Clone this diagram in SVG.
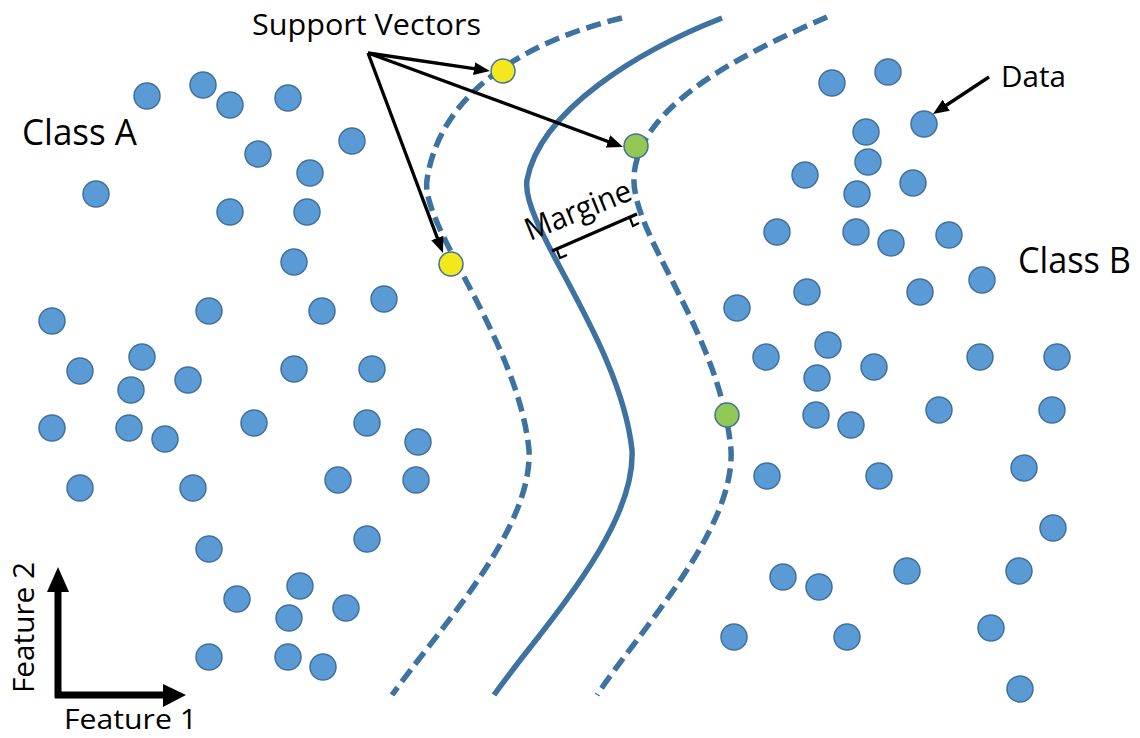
<svg xmlns="http://www.w3.org/2000/svg" width="1140" height="738" viewBox="0 0 1140 738">
  <style>
    .pt { fill: #5B9BD5; stroke: #41719C; stroke-width: 1.5; }
    .sv-y { fill: #F2E81C; stroke: #41719C; stroke-width: 1.5; }
    .sv-g { fill: #92C853; stroke: #41719C; stroke-width: 1.5; }
    .bound { fill: none; stroke: #3E72A0; stroke-width: 5.5; }
    .dash { stroke-dasharray: 15 7; }
    .arrow { fill: none; stroke: #000; stroke-width: 3.3; marker-end: url(#head); }
    .lbl { font-family: "Open Sans", "Liberation Sans", sans-serif; fill: #000; }
  </style>
  <defs>
    <marker id="head" markerUnits="userSpaceOnUse" markerWidth="17" markerHeight="14" refX="5" refY="6.5" orient="auto">
      <path d="M0,0 L16,6.5 L0,13 z" fill="#000"/>
    </marker>
  </defs>
  <rect width="1140" height="738" fill="#fff"/>

  <!-- decision boundary and margin lines -->
  <g id="boundaries">
    <path class="bound dash" d="M622,18 C530,40 440,90 427,180 C420,225 518,340 529,450 C533,530 438,630 392,695"/>
    <path class="bound" d="M722,18 C640,50 540,110 527,180 C520,225 620,340 632,450 C636,530 540,630 494,695"/>
    <path class="bound dash" d="M827,17 C740,55 640,105 634,175 C630,235 720,330 731,450 C735,530 640,630 597,695"/>
  </g>

  <!-- class A samples -->
  <g id="class-a">
    <circle class="pt" cx="147" cy="96" r="13"/>
    <circle class="pt" cx="203" cy="85" r="13"/>
    <circle class="pt" cx="230" cy="105" r="13"/>
    <circle class="pt" cx="288" cy="98" r="13"/>
    <circle class="pt" cx="352" cy="141" r="13"/>
    <circle class="pt" cx="258" cy="154" r="13"/>
    <circle class="pt" cx="310" cy="173" r="13"/>
    <circle class="pt" cx="96" cy="194" r="13"/>
    <circle class="pt" cx="230" cy="212" r="13"/>
    <circle class="pt" cx="307" cy="212" r="13"/>
    <circle class="pt" cx="294" cy="262" r="13"/>
    <circle class="pt" cx="209" cy="311" r="13"/>
    <circle class="pt" cx="322" cy="311" r="13"/>
    <circle class="pt" cx="384" cy="299" r="13"/>
    <circle class="pt" cx="52" cy="321" r="13"/>
    <circle class="pt" cx="80" cy="371" r="13"/>
    <circle class="pt" cx="142" cy="357" r="13"/>
    <circle class="pt" cx="131" cy="390" r="13"/>
    <circle class="pt" cx="188" cy="380" r="13"/>
    <circle class="pt" cx="294" cy="369" r="13"/>
    <circle class="pt" cx="372" cy="369" r="13"/>
    <circle class="pt" cx="52" cy="428" r="13"/>
    <circle class="pt" cx="129" cy="428" r="13"/>
    <circle class="pt" cx="165" cy="439" r="13"/>
    <circle class="pt" cx="254" cy="423" r="13"/>
    <circle class="pt" cx="367" cy="423" r="13"/>
    <circle class="pt" cx="418" cy="442" r="13"/>
    <circle class="pt" cx="80" cy="488" r="13"/>
    <circle class="pt" cx="193" cy="488" r="13"/>
    <circle class="pt" cx="338" cy="480" r="13"/>
    <circle class="pt" cx="416" cy="480" r="13"/>
    <circle class="pt" cx="367" cy="539" r="13"/>
    <circle class="pt" cx="209" cy="549" r="13"/>
    <circle class="pt" cx="300" cy="586" r="13"/>
    <circle class="pt" cx="237" cy="599" r="13"/>
    <circle class="pt" cx="346" cy="608" r="13"/>
    <circle class="pt" cx="289" cy="618" r="13"/>
    <circle class="pt" cx="209" cy="657" r="13"/>
    <circle class="pt" cx="288" cy="657" r="13"/>
    <circle class="pt" cx="323" cy="667" r="13"/>
  </g>

  <!-- class B samples -->
  <g id="class-b">
    <circle class="pt" cx="832" cy="83" r="13"/>
    <circle class="pt" cx="888" cy="72" r="13"/>
    <circle class="pt" cx="924" cy="124" r="13"/>
    <circle class="pt" cx="866" cy="132" r="13"/>
    <circle class="pt" cx="868" cy="162" r="13"/>
    <circle class="pt" cx="805" cy="175" r="13"/>
    <circle class="pt" cx="857" cy="194" r="13"/>
    <circle class="pt" cx="913" cy="183" r="13"/>
    <circle class="pt" cx="777" cy="232" r="13"/>
    <circle class="pt" cx="856" cy="232" r="13"/>
    <circle class="pt" cx="891" cy="243" r="13"/>
    <circle class="pt" cx="949" cy="235" r="13"/>
    <circle class="pt" cx="982" cy="280" r="13"/>
    <circle class="pt" cx="807" cy="292" r="13"/>
    <circle class="pt" cx="920" cy="292" r="13"/>
    <circle class="pt" cx="737" cy="308" r="13"/>
    <circle class="pt" cx="766" cy="357" r="13"/>
    <circle class="pt" cx="828" cy="345" r="13"/>
    <circle class="pt" cx="874" cy="367" r="13"/>
    <circle class="pt" cx="817" cy="378" r="13"/>
    <circle class="pt" cx="980" cy="357" r="13"/>
    <circle class="pt" cx="1057" cy="357" r="13"/>
    <circle class="pt" cx="816" cy="415" r="13"/>
    <circle class="pt" cx="851" cy="425" r="13"/>
    <circle class="pt" cx="939" cy="410" r="13"/>
    <circle class="pt" cx="1052" cy="410" r="13"/>
    <circle class="pt" cx="767" cy="476" r="13"/>
    <circle class="pt" cx="879" cy="476" r="13"/>
    <circle class="pt" cx="1024" cy="468" r="13"/>
    <circle class="pt" cx="1053" cy="528" r="13"/>
    <circle class="pt" cx="783" cy="577" r="13"/>
    <circle class="pt" cx="819" cy="587" r="13"/>
    <circle class="pt" cx="907" cy="571" r="13"/>
    <circle class="pt" cx="1019" cy="571" r="13"/>
    <circle class="pt" cx="734" cy="637" r="13"/>
    <circle class="pt" cx="847" cy="637" r="13"/>
    <circle class="pt" cx="991" cy="628" r="13"/>
    <circle class="pt" cx="1020" cy="689" r="13"/>
  </g>

  <!-- support vectors on the margin lines -->
  <g id="support-vectors">
    <circle class="sv-y" cx="503" cy="71" r="12"/>
    <circle class="sv-g" cx="636" cy="146" r="12"/>
    <circle class="sv-y" cx="451" cy="264" r="12"/>
    <circle class="sv-g" cx="727" cy="415" r="12"/>
  </g>

  <!-- pointer arrows -->
  <g id="connectors">
    <line class="arrow" x1="368" y1="53" x2="479" y2="69.4"/>
    <line class="arrow" x1="368" y1="53" x2="612.7" y2="143.2"/>
    <line class="arrow" x1="368" y1="53" x2="439.1" y2="242.7"/>
    <line class="arrow" x1="989" y1="77" x2="942.1" y2="108"/>
  </g>

  <!-- margin width indicator -->
  <g id="margin">
    <line x1="552" y1="251" x2="637" y2="214" stroke="#000" stroke-width="3.3"/>
    <polyline points="557,250 560,258 567,255" fill="none" stroke="#000" stroke-width="2.2"/>
    <polyline points="630,218 633,226 639,223" fill="none" stroke="#000" stroke-width="2.2"/>
    <text class="lbl" x="582" y="220" font-size="31" text-anchor="middle" textLength="112" lengthAdjust="spacingAndGlyphs" transform="rotate(-22 582 220)">Margine</text>
  </g>

  <!-- feature axes -->
  <g id="axes">
    <line x1="58" y1="698" x2="58" y2="588" stroke="#000" stroke-width="7"/>
    <polygon points="47,592 58,567 69,592" fill="#000"/>
    <line x1="55" y1="695" x2="166" y2="695" stroke="#000" stroke-width="7"/>
    <polygon points="163,684 186,695 163,707" fill="#000"/>
  </g>

  <!-- labels -->
  <g id="labels">
    <text class="lbl" x="252" y="35" font-size="29" textLength="229" lengthAdjust="spacingAndGlyphs">Support Vectors</text>
    <text class="lbl" x="22" y="145" font-size="36" textLength="115" lengthAdjust="spacingAndGlyphs">Class A</text>
    <text class="lbl" x="1018" y="273" font-size="36" textLength="113" lengthAdjust="spacingAndGlyphs">Class B</text>
    <text class="lbl" x="1001" y="87" font-size="30" textLength="65" lengthAdjust="spacingAndGlyphs">Data</text>
    <text class="lbl" x="64" y="729" font-size="28" textLength="133" lengthAdjust="spacingAndGlyphs">Feature 1</text>
    <text class="lbl" x="34" y="693" font-size="30" textLength="131" lengthAdjust="spacingAndGlyphs" transform="rotate(-90 34 693)">Feature 2</text>
  </g>
</svg>
